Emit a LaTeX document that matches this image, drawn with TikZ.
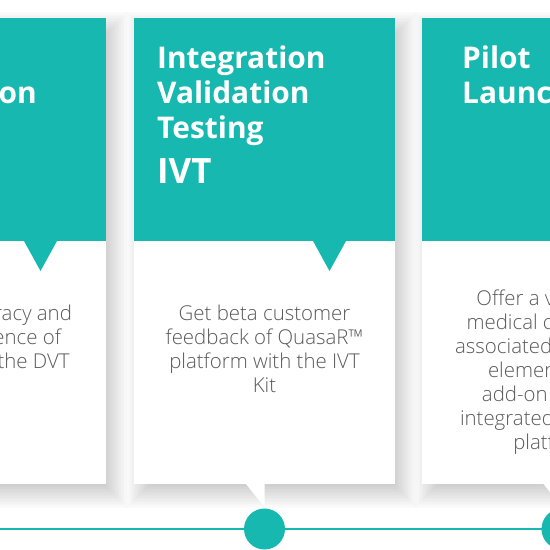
\documentclass[tikz,border=0pt]{standalone}
\usepackage{fontspec}
\setmainfont{Open Sans}
\newfontfamily\lightfont{Open Sans Light}
\usepackage{tikz}
\usetikzlibrary{positioning, backgrounds}

\definecolor{stageteal}{HTML}{16B8B0}
\definecolor{stagegrey}{HTML}{5A5A5A}

\begin{document}
\begin{tikzpicture}[x=1bp, y=-1bp, node distance=0bp,
	head/.style={rectangle, fill=stageteal, minimum width=261bp, minimum height=223bp, inner sep=0pt, outer sep=0pt},
	panel/.style={rectangle, fill=white, minimum width=261bp, minimum height=243bp, inner sep=0pt, outer sep=0pt},
	title/.style={text=white, align=left, inner sep=0pt, font=\bfseries\fontsize{30}{35}\selectfont},
	desc/.style={text=stagegrey, align=center, inner sep=0pt, font=\lightfont\fontsize{20.5}{24}\selectfont},
	pointer/.style={fill=stageteal},
	tail/.style={fill=white},
	milestone/.style={circle, fill=stageteal, minimum size=41bp, inner sep=0pt},
	timeline/.style={draw=stageteal, line width=2.5bp},
	shadowtint/.style={fill=black, opacity=0.012}
	]

	\useasboundingbox (0,0) rectangle (550,550);

	% Cards
	\node[head, anchor=north west] (dvt-head) at (-155,18) {};
	\node[panel, below=of dvt-head] (dvt-body) {};

	\node[head, anchor=north west] (ivt-head) at (134,18) {};
	\node[panel, below=of ivt-head] (ivt-body) {};

	\node[head, anchor=north west] (pilot-head) at (422,18) {};
	\node[panel, below=of pilot-head] (pilot-body) {};

	% Titles
	\node[title, below right=28bp and 18bp of dvt-head.north west] (dvt-title) {Design\\Verification\\Testing\\[10bp]{\fontsize{35}{42}\selectfont DVT}};
	\node[title, below right=28bp and 23bp of ivt-head.north west] (ivt-title) {Integration\\Validation\\Testing\\[10bp]{\fontsize{35}{42}\selectfont IVT}};
	\node[title, below right=28bp and 40bp of pilot-head.north west] (pilot-title) {Pilot\\Launch};

	% Pointers
	\fill[pointer] ([xshift=179bp]dvt-head.south west) -- ([xshift=212bp]dvt-head.south west) -- ([xshift=195.5bp, yshift=-30bp]dvt-head.south west) -- cycle;
	\fill[pointer] ([xshift=179bp]ivt-head.south west) -- ([xshift=212bp]ivt-head.south west) -- ([xshift=195.5bp, yshift=-30bp]ivt-head.south west) -- cycle;

	% Texts
	\node[desc, below=64bp of dvt-head.south, xshift=3bp] (dvt-text) {Assess accuracy and\\the persistence of\\results with the DVT};
	\node[desc, below=64bp of ivt-head.south] (ivt-text) {Get beta customer\\feedback of QuasaR™\\platform with the IVT\\Kit};
	\node[desc, below=49bp of pilot-head.south] (pilot-text) {Offer a variety of\\medical conditions\\associated with every\\element as an\\add-on module\\integrated QuasaR™\\platform};

	% Tails
	\coordinate (ivt-tip) at ([yshift=-23bp]ivt-body.south);
	\coordinate (pilot-tip) at ([xshift=9.5bp, yshift=-23bp]pilot-body.south);
	\fill[tail] ([xshift=-18.5bp]ivt-tip |- ivt-body.south) -- (ivt-tip |- ivt-body.south) -- (ivt-tip) -- cycle;
	\fill[tail] ([xshift=-18.5bp]pilot-tip |- pilot-body.south) -- (pilot-tip |- pilot-body.south) -- (pilot-tip) -- cycle;

	% Timeline
	\coordinate (tl-start) at (0,529);
	\coordinate (tl-end) at (550,529);
	\draw[timeline] (tl-start) -- (tl-end);
	\node[milestone] (ivt-dot) at (ivt-tip |- tl-start) {};
	\node[milestone] (pilot-dot) at (pilot-tip |- tl-start) {};

	% Soft shadows
	\begin{scope}[on background layer]
		\fill[white] (0,0) rectangle (550,550);
		\foreach \g in {0,1.5,...,30} {
			\fill[shadowtint] ([shift={(22-\g,24-\g)}]dvt-head.north west) rectangle ([shift={(\g-8,\g-6)}]dvt-body.south east);
			\fill[shadowtint] ([shift={(22-\g,24-\g)}]ivt-head.north west) rectangle ([shift={(\g-8,\g-6)}]ivt-body.south east);
			\fill[shadowtint] ([shift={(22-\g,24-\g)}]pilot-head.north west) rectangle ([shift={(\g-8,\g-6)}]pilot-body.south east);
		}
	\end{scope}

\end{tikzpicture}
\end{document}
